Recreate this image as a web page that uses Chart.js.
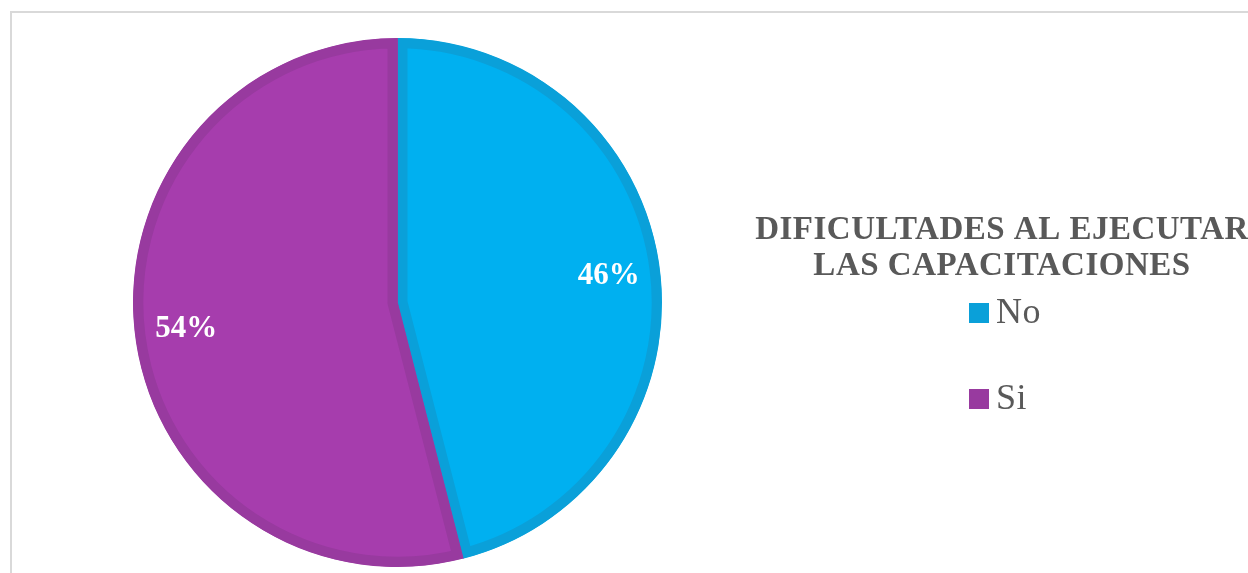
<!DOCTYPE html>
<html>
<head>
<meta charset="utf-8">
<script src="https://cdn.jsdelivr.net/npm/chart.js@4/dist/chart.umd.min.js"></script>
<style>
  html, body { margin: 0; padding: 0; background: #ffffff; overflow: hidden; }
  #wrap { position: relative; width: 1248px; height: 573px; }
  #frame { position: absolute; left: 10px; top: 11px; width: 1400px; height: 800px;
           border: 2px solid #d9d9d9; box-sizing: border-box; }
  canvas { position: absolute; left: 0; top: 0; }
</style>
</head>
<body>
<div id="wrap">
  <div id="frame"></div>
  <canvas id="c" width="1248" height="573"></canvas>
</div>
<script>
// Responses to the survey question
const categories = ['No', 'Si'];
const percentages = [46, 54];
const fillColors = ['#00b0f0', '#a63dad'];
const edgeColors = ['#0aa0d9', '#983a9f'];
const legendTitle = ['DIFICULTADES AL EJECUTAR', 'LAS CAPACITACIONES'];

// Percent labels written inside each slice
const sliceLabels = {
  id: 'sliceLabels',
  afterDatasetsDraw(chart) {
    const ctx = chart.ctx;
    const meta = chart.getDatasetMeta(0);
    ctx.save();
    ctx.font = 'bold 31px "Liberation Serif", "Times New Roman", serif';
    ctx.fillStyle = '#ffffff';
    ctx.textAlign = 'center';
    ctx.textBaseline = 'middle';
    meta.data.forEach((arc, i) => {
      const p = arc.getProps(['x', 'y', 'startAngle', 'endAngle', 'outerRadius'], true);
      const mid = (p.startAngle + p.endAngle) / 2;
      const d = p.outerRadius * 0.805;
      ctx.fillText(chart.data.datasets[0].data[i] + '%', p.x + Math.cos(mid) * d, p.y + Math.sin(mid) * d);
    });
    ctx.restore();
  }
};

// Legend with its two-line heading, to the right of the pie
const sideLegend = {
  id: 'sideLegend',
  afterDraw(chart) {
    const ctx = chart.ctx;
    const cx = 1002;
    ctx.save();
    ctx.fillStyle = '#595959';
    ctx.textAlign = 'center';
    ctx.textBaseline = 'alphabetic';
    ctx.font = 'bold 33px "Liberation Serif", "Times New Roman", serif';
    ctx.letterSpacing = '0.5px';
    legendTitle.forEach((line, i) => ctx.fillText(line, cx, 239 + i * 36));
    ctx.textAlign = 'left';
    ctx.font = '36px "Liberation Serif", "Times New Roman", serif';
    ctx.letterSpacing = '0.5px';
    chart.data.labels.forEach((lab, i) => {
      const base = 323 + i * 86;
      ctx.fillStyle = chart.data.datasets[0].borderColor[i];
      ctx.fillRect(969, base - 20, 20, 20);
      ctx.fillStyle = '#595959';
      ctx.fillText(lab, 996, base);
    });
    ctx.restore();
  }
};

new Chart(document.getElementById('c'), {
  type: 'pie',
  data: {
    labels: categories,
    datasets: [{
      data: percentages,
      backgroundColor: fillColors,
      borderColor: edgeColors,
      borderWidth: 10,
      borderAlign: 'inner',
      hoverOffset: 0
    }]
  },
  options: {
    responsive: false,
    devicePixelRatio: 1,
    animation: false,
    events: [],
    layout: { padding: { left: 133, right: 586, top: 38, bottom: 6 } },
    plugins: {
      legend: { display: false },
      tooltip: { enabled: false },
      title: { display: false }
    }
  },
  plugins: [sliceLabels, sideLegend]
});
</script>
</body>
</html>
